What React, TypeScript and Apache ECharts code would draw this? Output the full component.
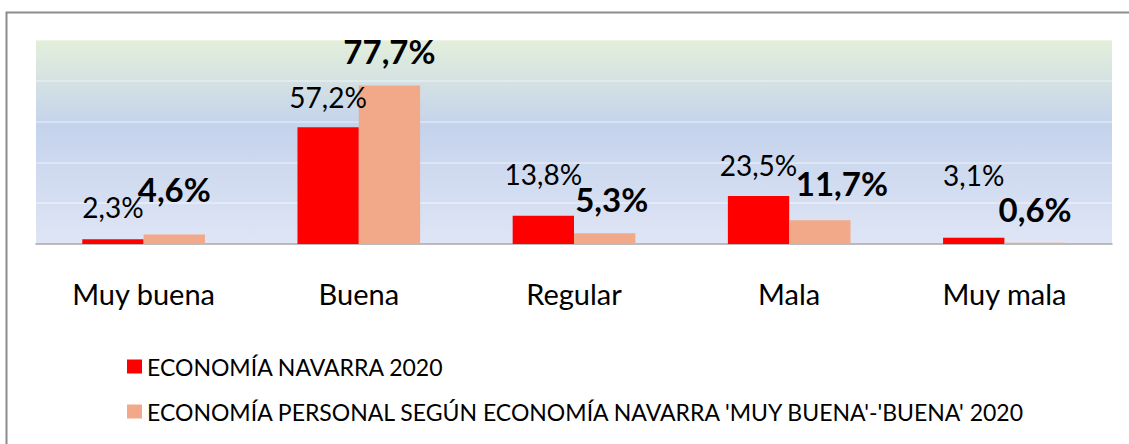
import React, { useEffect, useRef } from "react";
import * as echarts from "echarts";

const categories = ["Muy buena", "Buena", "Regular", "Mala", "Muy mala"];
const seriesNames = [
  "ECONOMÍA NAVARRA 2020",
  "ECONOMÍA PERSONAL SEGÚN ECONOMÍA NAVARRA 'MUY BUENA'-'BUENA' 2020",
];
const navarra2020 = [2.3, 57.2, 13.8, 23.5, 3.1];
const personal2020 = [4.6, 77.7, 5.3, 11.7, 0.6];

// label placement tweaks (pixels): [dx, gap above bar top]
const navarraLabelPos = [
  [0, 21],
  [0, 19],
  [0, 31],
  [0, 20],
  [0, 52],
];
const personalLabelPos = [
  [0, 33],
  [0, 22],
  [7, 21],
  [22, 24],
  [0, 21],
];

const FONT = "Lato, 'Open Sans', sans-serif";
const fmt = (v: number) => v.toFixed(1).replace(".", ",") + "%";

export default function App() {
  const ref = useRef<HTMLDivElement>(null);
  useEffect(() => {
    if (!ref.current) return;
    const chart = echarts.init(ref.current, null, { renderer: "svg" });
    const normalSize = 28;
    const boldSize = 33;
    const mkData = (vals: number[], pos: number[][], size: number) =>
      vals.map((v, i) => ({
        value: v,
        label: {
          distance: pos[i][1] - 0.113 * size,
          offset: [pos[i][0], 0],
        },
      }));
    chart.setOption({
      animation: false,
      backgroundColor: "#ffffff",
      graphic: [
        {
          type: "rect",
          shape: { x: 6.5, y: 12.5, width: 1300, height: 600 },
          style: { fill: "none", stroke: "#8c8c8c", lineWidth: 2 },
          silent: true,
        },
      ],
      grid: {
        left: 36,
        right: 17,
        top: 40,
        bottom: 200,
        show: true,
        borderWidth: 0,
        backgroundColor: new echarts.graphic.LinearGradient(0, 0, 0, 1, [
          { offset: 0, color: "#E3EFDA" },
          { offset: 0.42, color: "#C4D3EC" },
          { offset: 1, color: "#DFE5F5" },
        ]),
      },
      legend: {
        orient: "vertical",
        left: 127,
        top: 355,
        padding: 0,
        itemWidth: 15,
        itemHeight: 14,
        itemGap: 22,
        icon: "rect",
        selectedMode: false,
        textStyle: { fontFamily: FONT, fontSize: 23, color: "#000" },
        data: seriesNames,
      },
      xAxis: {
        type: "category",
        data: categories,
        axisLine: { lineStyle: { color: "#a6a6a6", width: 1.5 } },
        axisTick: { length: 10, lineStyle: { color: "#a6a6a6", width: 1.5 } },
        axisLabel: {
          fontFamily: FONT,
          fontSize: 29,
          color: "#000",
          margin: 35,
          lineHeight: 29,
        },
      },
      yAxis: {
        type: "value",
        min: 0,
        max: 100,
        interval: 20,
        axisLabel: { show: false },
        axisLine: { show: false },
        axisTick: { show: false },
        splitLine: {
          lineStyle: { color: "rgba(255,255,255,0.45)", width: 1.5 },
        },
      },
      series: [
        {
          name: seriesNames[0],
          type: "bar",
          barGap: "0%",
          barCategoryGap: "43%",
          itemStyle: { color: "#FF0000" },
          label: {
            show: true,
            position: "top",
            fontFamily: FONT,
            fontSize: normalSize,
            lineHeight: normalSize,
            color: "#000",
            formatter: (p: any) => fmt(p.value),
          },
          data: mkData(navarra2020, navarraLabelPos, normalSize),
        },
        {
          name: seriesNames[1],
          type: "bar",
          barGap: "0%",
          barCategoryGap: "43%",
          itemStyle: { color: "#F1A98A" },
          label: {
            show: true,
            position: "top",
            fontFamily: FONT,
            fontSize: boldSize,
            lineHeight: boldSize,
            fontWeight: "bold",
            color: "#000",
            formatter: (p: any) => fmt(p.value),
          },
          data: mkData(personal2020, personalLabelPos, boldSize),
        },
      ],
    });
    return () => chart.dispose();
  }, []);
  return (
    <div
      ref={ref}
      style={{ position: "fixed", left: 0, top: 0, width: 1129, height: 444 }}
    />
  );
}
